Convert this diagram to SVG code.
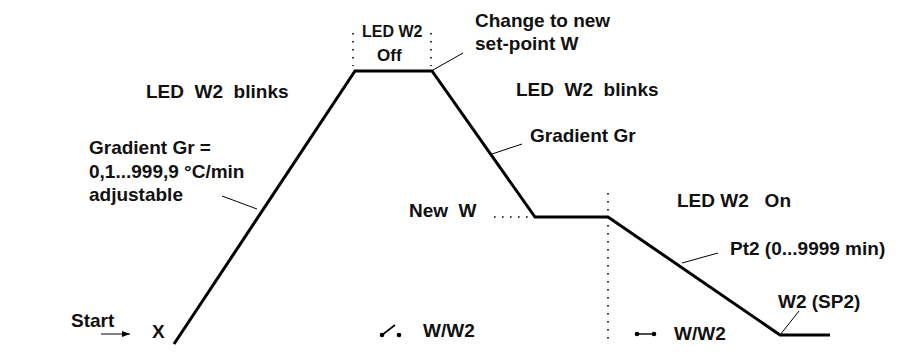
<svg xmlns="http://www.w3.org/2000/svg" width="900" height="359" viewBox="0 0 900 359">
<style>
text{font-family:"Liberation Sans",Arial,sans-serif;font-size:19px;font-weight:bold;fill:#111}
.sm{font-size:16px}
.md{font-size:17px}
.main{fill:none;stroke:#000;stroke-width:3;stroke-linejoin:miter}
.lead{fill:none;stroke:#000;stroke-width:1}
.dot{fill:none;stroke:#000;stroke-width:1.6;stroke-dasharray:1.6 6.4}
</style>
<defs>
<marker id="ah" markerWidth="8" markerHeight="6" refX="8" refY="3" orient="auto" markerUnits="userSpaceOnUse">
<path d="M0,0 L8,3 L0,6 z" fill="#000"/>
</marker>
</defs>
<rect width="900" height="359" fill="#fff"/>
<g id="connectors">
<polyline class="main" points="174,344 355,71 432,71 535,217 608,217 780,335 830,335"/>
<line class="dot" x1="353" y1="33" x2="353" y2="66"/>
<line class="dot" x1="431" y1="33" x2="431" y2="66"/>
<line class="dot" x1="494" y1="217" x2="533" y2="217"/>
<line class="dot" x1="608" y1="193" x2="608" y2="342"/>
<line class="lead" x1="433" y1="70" x2="463" y2="53"/>
<line class="lead" x1="492" y1="154" x2="522" y2="144"/>
<line class="lead" x1="222" y1="196" x2="257" y2="209"/>
<line class="lead" x1="682" y1="263" x2="718" y2="253"/>
<line class="lead" x1="780" y1="335" x2="799" y2="311"/>
<line x1="101" y1="334" x2="130" y2="334" stroke="#000" stroke-width="1" marker-end="url(#ah)"/>
</g>
<g id="switch-open">
<circle cx="382" cy="335" r="2.3"/>
<line x1="382" y1="335" x2="395" y2="325" stroke="#000" stroke-width="1.6"/>
<circle cx="399" cy="335" r="2.3"/>
</g>
<g id="switch-closed">
<circle cx="637" cy="334" r="2.3"/>
<line x1="637" y1="334" x2="654" y2="334" stroke="#000" stroke-width="1.4"/>
<circle cx="654" cy="334" r="2.3"/>
</g>
<g id="labels">
<text x="146" y="98" xml:space="preserve">LED  W2  blinks</text>
<text x="89" y="154">Gradient Gr =</text>
<text x="89" y="178">0,1...999,9 °C/min</text>
<text x="89" y="201">adjustable</text>
<text class="sm" x="362" y="37">LED W2</text>
<text class="md" x="377" y="61">Off</text>
<text x="475" y="27">Change to new</text>
<text x="475" y="50">set-point W</text>
<text x="516" y="96" xml:space="preserve">LED  W2  blinks</text>
<text x="530" y="142">Gradient Gr</text>
<text x="409" y="217" xml:space="preserve">New  W</text>
<text x="677" y="207" xml:space="preserve">LED W2   On</text>
<text x="730" y="255">Pt2 (0...9999 min)</text>
<text x="778" y="308">W2 (SP2)</text>
<text x="71" y="327">Start</text>
<text x="152" y="338">X</text>
<text x="423" y="337">W/W2</text>
<text x="674" y="340">W/W2</text>
</g>
</svg>
